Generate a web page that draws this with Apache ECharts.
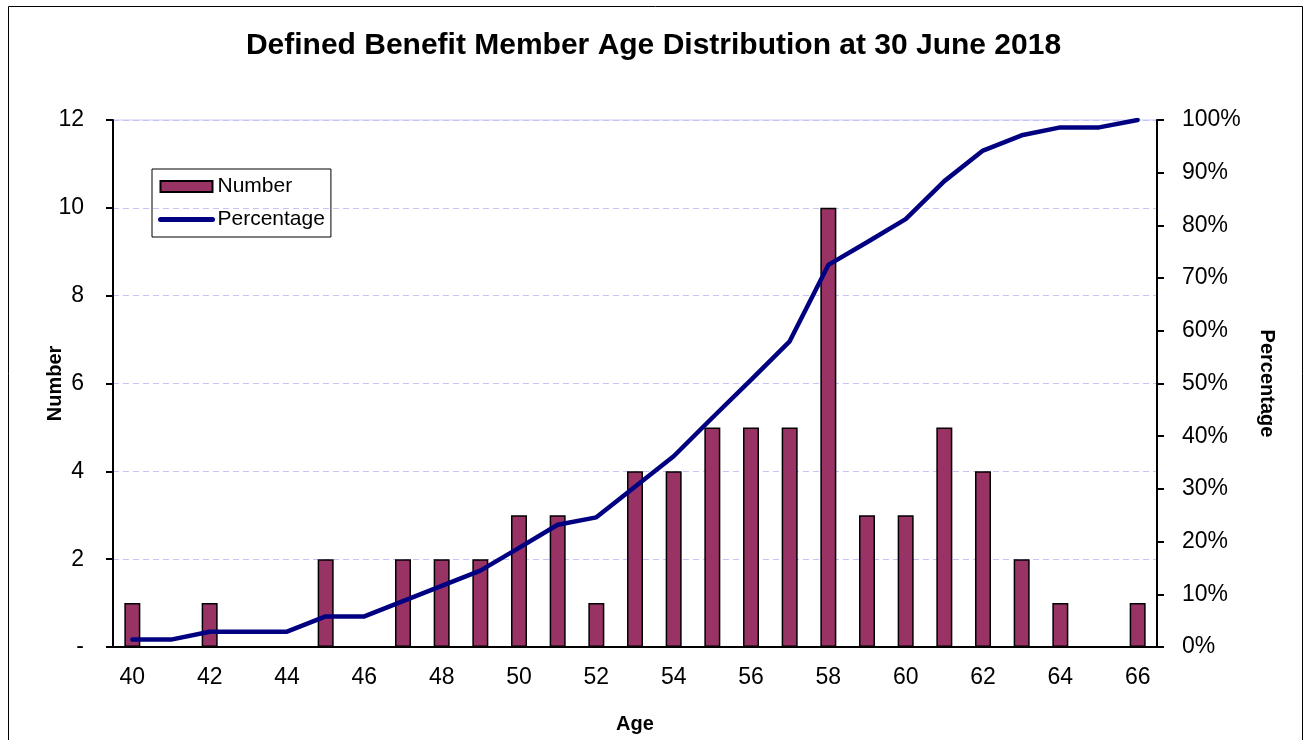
<!DOCTYPE html>
<html>
<head>
<meta charset="utf-8">
<script src="https://cdn.jsdelivr.net/npm/echarts@6/dist/echarts.min.js"></script>
<style>
  html, body { margin: 0; padding: 0; background: #fff; }
  #chart { width: 1307px; height: 740px; }
</style>
</head>
<body>
<div id="chart"></div>
<script>
  // ages on the category axis
  var ages = ['40','41','42','43','44','45','46','47','48','49','50','51','52','53',
              '54','55','56','57','58','59','60','61','62','63','64','65','66'];
  // members per age
  var counts = [1,0,1,0,0,2,0,2,2,2,3,3,1,4,4,5,5,5,10,3,3,5,4,2,1,0,1];
  // cumulative percentage
  var percents = [1.4,1.4,2.9,2.9,2.9,5.8,5.8,8.7,11.6,14.5,18.8,23.2,24.6,30.4,
                  36.2,43.5,50.7,58.0,72.5,76.8,81.2,88.4,94.2,97.1,98.6,98.6,100];

  var font = 'Liberation Sans, Arial, sans-serif';
  var chart = echarts.init(document.getElementById('chart'));

  chart.setOption({
    animation: false,
    textStyle: { fontFamily: font, color: '#000' },
    title: {
      text: 'Defined Benefit Member Age Distribution at 30 June 2018',
      left: 'center',
      top: 26,
      textStyle: { fontFamily: font, fontSize: 30, fontWeight: 'bold', color: '#000' }
    },
    graphic: [{
      type: 'rect',
      shape: { x: 8.5, y: 6.5, width: 1294, height: 740 },
      style: { fill: null, stroke: '#000', lineWidth: 1 },
      silent: true
    }],
    legend: {
      orient: 'vertical',
      left: 152,
      top: 169,
      padding: [7, 6, 7, 6],
      borderColor: '#000',
      borderWidth: 1,
      itemWidth: 52,
      itemHeight: 11,
      itemGap: 12,
      textStyle: { fontFamily: font, fontSize: 21, color: '#000' },
      data: [
        { name: 'Number', icon: 'rect' },
        { name: 'Percentage', itemStyle: { opacity: 0 }, lineStyle: { width: 5, cap: 'round' } }
      ]
    },
    grid: {
      left: 113, right: 150, top: 120, bottom: 93,
      show: true, borderColor: '#c8c8fa', borderWidth: 1
    },
    xAxis: {
      type: 'category',
      data: ages,
      name: 'Age',
      nameLocation: 'middle',
      nameGap: 67,
      nameTextStyle: { fontFamily: font, fontSize: 20, fontWeight: 'bold', color: '#000' },
      axisLine: { lineStyle: { color: '#000', width: 2 } },
      axisTick: { interval: 0, length: 7, lineStyle: { color: '#000', width: 2 } },
      axisLabel: { interval: 1, fontSize: 23, color: '#000', margin: 19 }
    },
    yAxis: [{
      type: 'value',
      min: 0, max: 12, interval: 2,
      name: 'Number',
      nameLocation: 'middle',
      nameGap: 48,
      nameRotate: 90,
      nameMoveOverlap: false,
      nameTextStyle: { fontFamily: font, fontSize: 20, fontWeight: 'bold', color: '#000' },
      axisLine: { show: true, lineStyle: { color: '#000', width: 2 } },
      axisTick: { show: true, length: 7, lineStyle: { color: '#000', width: 2 } },
      axisLabel: {
        fontSize: 23, color: '#000', margin: 29,
        formatter: function (v) { return v === 0 ? '-' : v; }
      },
      splitLine: { lineStyle: { color: '#c4c4f8', type: [6, 4], width: 1 } }
    }, {
      type: 'value',
      min: 0, max: 100, interval: 10,
      position: 'right',
      name: 'Percentage',
      nameLocation: 'middle',
      nameGap: 100,
      nameRotate: -90,
      nameMoveOverlap: false,
      nameTextStyle: { fontFamily: font, fontSize: 20, fontWeight: 'bold', color: '#000' },
      axisLine: { show: true, lineStyle: { color: '#000', width: 2 } },
      axisTick: { show: true, length: 7, lineStyle: { color: '#000', width: 2 } },
      axisLabel: { fontSize: 23, color: '#000', margin: 25, formatter: '{value}%' },
      splitLine: { show: false }
    }],
    series: [{
      name: 'Number',
      type: 'bar',
      data: counts,
      barWidth: 16,
      itemStyle: { color: '#993366', borderColor: '#000', borderWidth: 1.5 }
    }, {
      name: 'Percentage',
      type: 'line',
      yAxisIndex: 1,
      data: percents,
      symbol: 'none',
      lineStyle: { color: '#000080', width: 4.5, cap: 'round' },
      itemStyle: { color: '#000080' }
    }]
  });
</script>
</body>
</html>
